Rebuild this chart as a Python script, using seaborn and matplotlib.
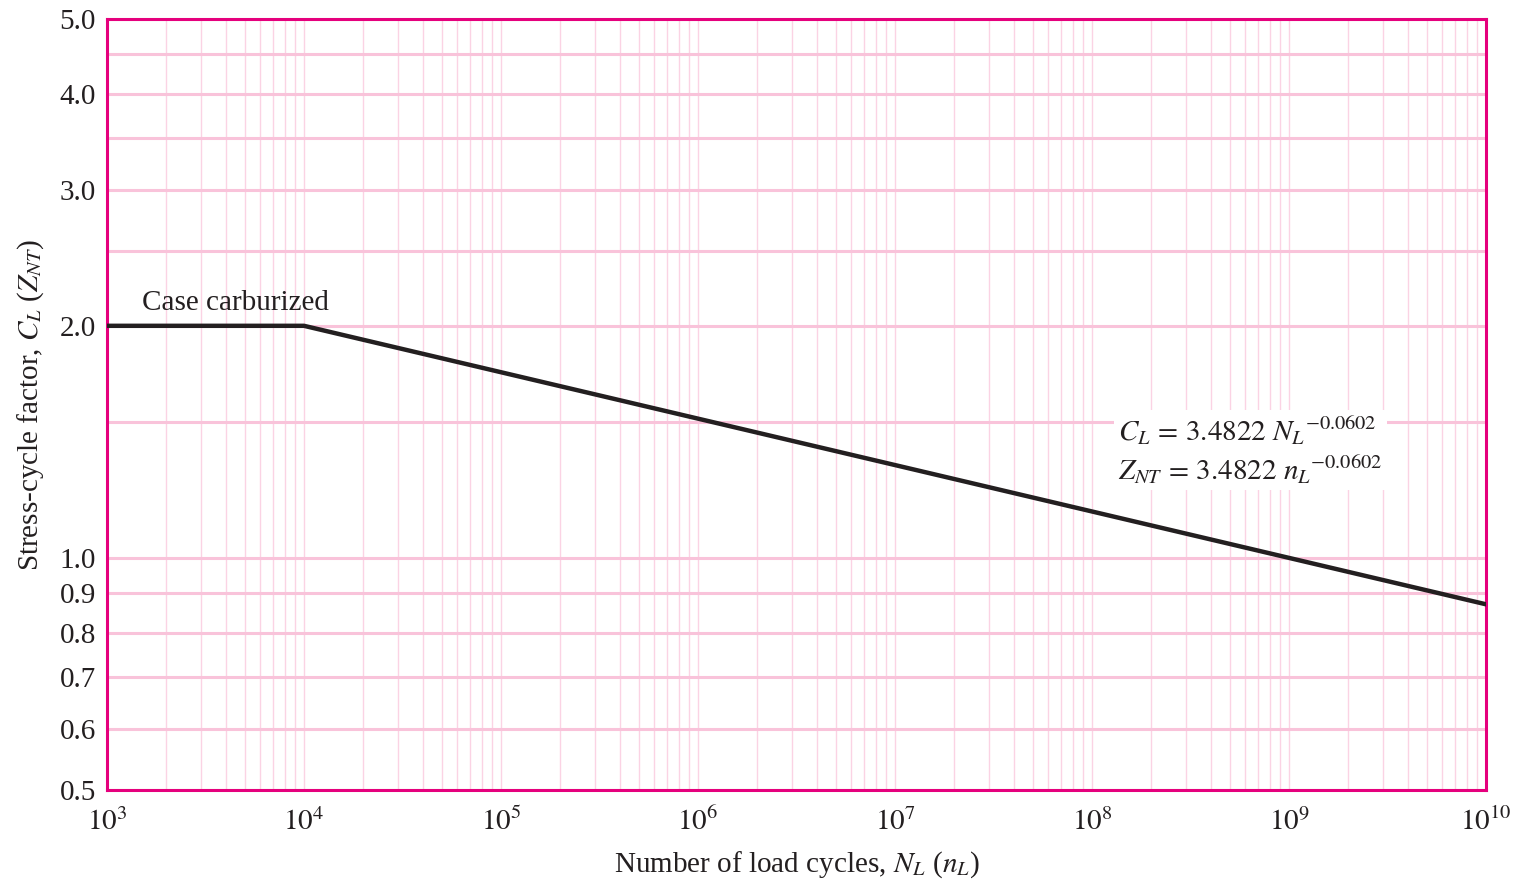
import numpy as np
import pandas as pd
import matplotlib
matplotlib.use("Agg")
import matplotlib.pyplot as plt
import seaborn as sns
from matplotlib.ticker import FixedLocator, FixedFormatter, LogLocator, NullFormatter

# Data
cycles = [1e3, 1e4, 1e10]
factor = [2.0, 2.0, 0.8706]
y_ticks = [0.5, 0.6, 0.7, 0.8, 0.9, 1.0, 2.0, 3.0, 4.0, 5.0]
y_tick_labels = ["0.5", "0.6", "0.7", "0.8", "0.9", "1.0", "2.0", "3.0", "4.0", "5.0"]
y_extra_grid = [1.5, 2.5, 3.5, 4.5]
x_ticks = [1e3, 1e4, 1e5, 1e6, 1e7, 1e8, 1e9, 1e10]
x_tick_labels = [r"$10^{3}$", r"$10^{4}$", r"$10^{5}$", r"$10^{6}$", r"$10^{7}$",
                 r"$10^{8}$", r"$10^{9}$", r"$10^{10}$"]

sns.set_style("white")
plt.rcParams['font.family'] = ['Liberation Serif', 'DejaVu Serif']
plt.rcParams['mathtext.fontset'] = 'stix'

df = pd.DataFrame({"N": cycles, "C": factor})

fig = plt.figure(figsize=(15.18, 8.82), dpi=100)
ax = fig.add_axes([107/1518, 1 - 790/882, (1486 - 107)/1518, (790 - 19)/882])

pink_major = "#f9c3da"
pink_minor = "#fbd3e4"
magenta = "#e5007d"
ink = "#231f20"

ax.set_xscale("log")
ax.set_yscale("log")
ax.set_xlim(1e3, 1e10)
ax.set_ylim(0.5, 5.0)

ax.xaxis.set_major_locator(FixedLocator(x_ticks))
ax.xaxis.set_major_formatter(FixedFormatter(x_tick_labels))
ax.xaxis.set_minor_locator(LogLocator(base=10, subs=np.arange(2, 10), numticks=100))
ax.xaxis.set_minor_formatter(NullFormatter())
ax.yaxis.set_major_locator(FixedLocator(y_ticks))
ax.yaxis.set_major_formatter(FixedFormatter(y_tick_labels))
ax.yaxis.set_minor_locator(FixedLocator(y_extra_grid))
ax.yaxis.set_minor_formatter(NullFormatter())

ax.grid(True, which="major", axis="x", color=pink_minor, linewidth=1.0, zorder=0)
ax.grid(True, which="minor", axis="x", color=pink_minor, linewidth=1.0, zorder=0)
ax.grid(True, which="both", axis="y", color=pink_major, linewidth=2.2, zorder=0)
ax.set_axisbelow(True)

sns.lineplot(data=df, x="N", y="C", ax=ax, color=ink, linewidth=3.2, zorder=3)

for s in ax.spines.values():
    s.set_color(magenta)
    s.set_linewidth(2.2)
    s.set_visible(True)

ax.tick_params(axis="both", which="both", length=0, labelsize=21, colors=ink)
ax.tick_params(axis="x", pad=13)
ax.tick_params(axis="y", pad=8)

ax.set_xlabel(r"Number of load cycles, $N_L$ ($n_L$)", fontsize=21, color=ink, labelpad=9)
ax.set_ylabel(r"Stress-cycle factor, $C_L$ ($Z_{NT}$)", fontsize=21, color=ink, labelpad=10)

ax.text(1.5e3, 2.06, "Case carburized", fontsize=21, color=ink, ha="left", va="bottom")

eq = (r"$C_L\,=\,3.4822\ {N_L}^{-0.0602}$" + "\n" + r"$Z_{NT}\,=\,3.4822\ {n_L}^{-0.0602}$")
ax.text(1.36e8, 1.38, eq, fontsize=21, color=ink, ha="left", va="center",
        linespacing=1.25, zorder=4,
        bbox=dict(boxstyle="square,pad=0.15", facecolor="white", edgecolor="none"))

fig.savefig("out.png", dpi=100)
